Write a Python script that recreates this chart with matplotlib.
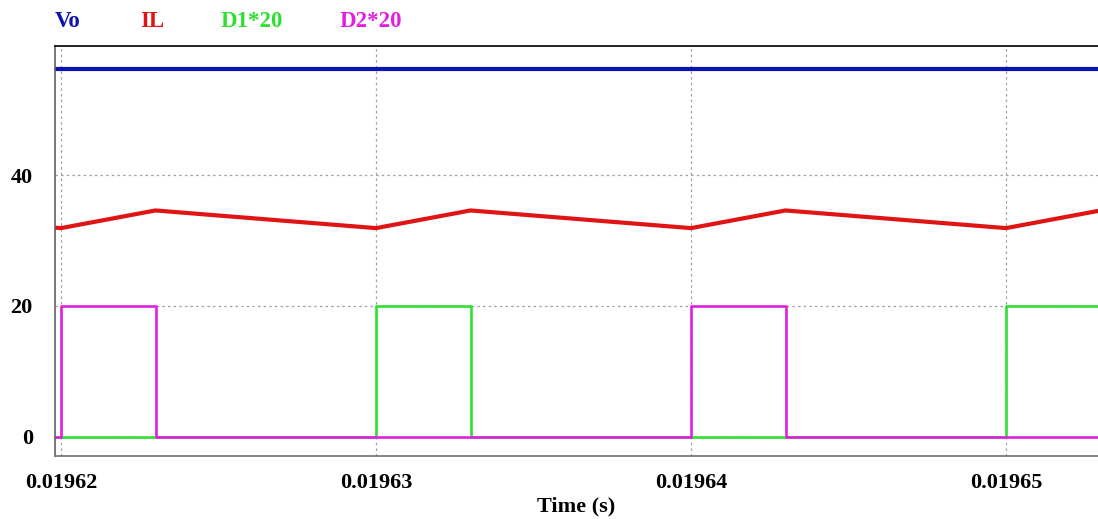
import numpy as np
import matplotlib.pyplot as plt

# time axis (s) and waveforms
t_il = [0.019613, 0.01962, 0.019623, 0.01963, 0.019633, 0.01964, 0.019643, 0.01965, 0.019653, 0.01966]
il = [34.6, 31.9, 34.6, 31.9, 34.6, 31.9, 34.6, 31.9, 34.6, 31.9]

t_sw = [0.019615, 0.01962, 0.019623, 0.01963, 0.019633, 0.01964, 0.019643, 0.01965, 0.019653, 0.01966]
d1 = [0, 0, 0, 20, 0, 0, 0, 20, 20, 20]
d2 = [0, 20, 0, 0, 0, 20, 0, 0, 0, 0]

vo = 56.3

xticks = [0.01962, 0.01963, 0.01964, 0.01965]
xtick_labels = ['0.01962', '0.01963', '0.01964', '0.01965']
yticks = [0, 20, 40]

names = ['Vo', 'IL', 'D1*20', 'D2*20']
colors = ['#0c14b0', '#e01414', '#2ee02e', '#e020e0']

plt.rcParams['font.family'] = ['Liberation Serif', 'DejaVu Serif']
plt.rcParams['font.weight'] = 'bold'

fig = plt.figure(figsize=(10.98, 5.19), dpi=100)
ax = fig.add_axes([55 / 1098, 1 - 456 / 519, 1 - 55 / 1098, (456 - 46) / 519])

ax.plot([t_il[0], t_il[-1]], [vo, vo], color=colors[0], lw=3.0)
ax.plot(t_il, il, color=colors[1], lw=3.0)
ax.plot(t_sw, d1, color=colors[2], lw=1.9, drawstyle='steps-post')
ax.plot(t_sw, d2, color=colors[3], lw=1.9, drawstyle='steps-post')

ax.set_xlim(0.01962 - 6 / 315 * 1e-5, 0.01962 + 1037 / 315 * 1e-5)
ax.set_ylim(-2.95, 59.75)
ax.set_xticks(xticks)
ax.set_xticklabels(xtick_labels)
ax.set_yticks(yticks)
ax.tick_params(length=0, labelsize=16)
ax.tick_params(axis='x', pad=12)
ax.tick_params(axis='y', pad=16)
ax.grid(True, color='#a0a0a0', ls=(0, (2, 2.5)), lw=0.9)
ax.set_axisbelow(True)

ax.spines['right'].set_visible(False)
ax.spines['top'].set_color('black')
ax.spines['left'].set_color('#606060')
ax.spines['bottom'].set_color('#707070')
for s in ax.spines.values():
    s.set_linewidth(1.2)

ax.set_xlabel('Time (s)', fontsize=16, fontweight='bold', labelpad=3)

# legend labels across the top
label_x = [55, 140, 221, 340]
for name, c, x in zip(names, colors, label_x):
    fig.text(x / 1098, 1 - 22 / 519, name, color=c, fontsize=16.5,
             fontweight='bold', va='center', ha='left')

fig.savefig('out.png', dpi=100)
